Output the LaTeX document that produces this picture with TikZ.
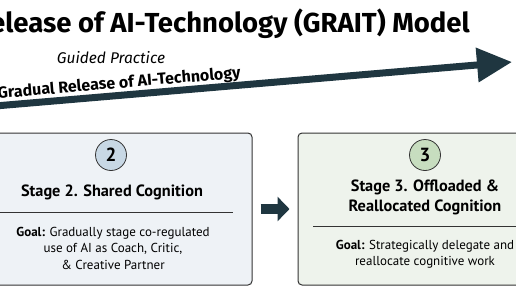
\documentclass[tikz,border=0pt]{standalone}
\usepackage{fontspec}
\setmainfont{PT Sans}
\newfontfamily\headfont{Fira Sans}
\usetikzlibrary{arrows.meta,calc,positioning}
\definecolor{arrowc}{HTML}{1F3640}
\definecolor{edgec}{HTML}{333333}
\definecolor{boxtwo}{HTML}{EEF2F6}
\definecolor{boxthree}{HTML}{EEF3EC}
\definecolor{dottwo}{HTML}{C8D8E5}
\definecolor{dotthree}{HTML}{C7DDBF}
\begin{document}
\begin{tikzpicture}[x=1pt,y=-1pt,>=Latex,
  stagebox/.style={draw=edgec,line width=1pt,rounded corners=4pt,
    minimum height=152pt},
  num/.style={circle,draw=edgec,line width=0.8pt,minimum size=31pt,
    inner sep=0pt,font=\bfseries\fontsize{19}{19}\selectfont},
  stagetitle/.style={font=\bfseries\fontsize{16.3}{19.5}\selectfont,
    align=center,inner sep=0pt},
  goal/.style={font=\fontsize{13}{16.5}\selectfont,align=center,
    inner sep=0pt}]
  \useasboundingbox (0,0) rectangle (516,290);
  \clip (0,0) rectangle (516,290);

  % title and release arrow
  \node[anchor=base east,inner sep=0pt,
    font=\headfont\bfseries\fontsize{27.5}{27.5}\selectfont] (title)
    at (470,32) {Release of AI-Technology (GRAIT) Model};
  \node[anchor=base,inner sep=0pt,
    font=\headfont\itshape\fontsize{15.5}{15.5}\selectfont] (guided)
    at (111,63) {Guided Practice};
  \coordinate (start) at (-5,106);
  \coordinate (tip) at (512,62);
  \draw[arrowc,line width=7pt,-{Triangle[length=35pt,width=33pt]}]
    (start) -- (tip);
  \node[rotate=4.8,anchor=base east,inner sep=0pt,
    font=\headfont\bfseries\fontsize{16}{16}\selectfont] (gradual)
    at (241,78) {Gradual Release of AI-Technology};

  % stage 2
  \node[stagebox,fill=boxtwo,minimum width=282pt] (b2) at (111,209) {};
  \node[num,fill=dottwo] (n2) at (111,155) {2};
  \node[stagetitle] (t2) at (112,192) {Stage 2. Shared Cognition};
  \draw[edgec,line width=0.6pt] (-30,212) -- (233,212);
  \node[goal] (g2) at (113,248)
    {\textbf{Goal:} Gradually stage co-regulated\\use of AI as Coach, Critic,\\\& Creative Partner};

  % stage 3
  \node[stagebox,fill=boxthree,minimum width=254pt] (b3) at (425,209) {};
  \node[num,fill=dotthree] (n3) at (425,155) {3};
  \node[stagetitle] (t3) at (425,197.5)
    {Stage 3. Offloaded \&\\Reallocated Cognition};
  \draw[edgec,line width=0.6pt] (313,226) -- (540,226);
  \node[goal] (g3) at (425,254)
    {\textbf{Goal:} Strategically delegate and\\reallocate cognitive work};

  \draw[arrowc,line width=10pt,-{Triangle[length=12pt,width=24pt]},
    shorten <=8pt,shorten >=8pt] (b2.east) -- (b3.west);
\end{tikzpicture}
\end{document}
